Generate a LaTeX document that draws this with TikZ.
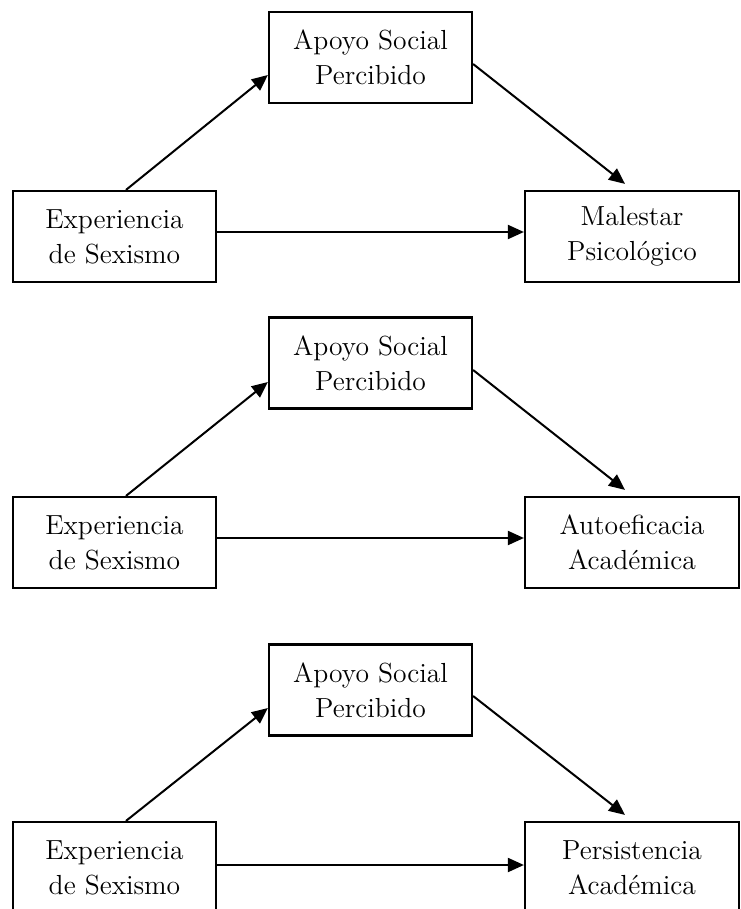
\documentclass[tikz,border=0pt]{standalone}
\usetikzlibrary{arrows.meta,calc}
\tikzset{
  var/.style={draw, line width=1.1pt, minimum width=101.5pt, minimum height=45.5pt,
    inner sep=0pt, align=center, font=\fontsize{13.8}{17.5}\selectfont},
  outvar/.style={var, minimum width=107pt},
  path/.style={line width=1pt, -{Triangle[length=8pt,width=7pt]}}
}
\begin{document}
\begin{tikzpicture}[x=0.5pt, y=-0.5pt]
\useasboundingbox (0,0) rectangle (740,909);
% first model
\node[var] (apoyoA) at (370.5, 57.5) {Apoyo Social\\Percibido};
\node[var] (sexA) at (114.5, 236.5) {Experiencia\\de Sexismo};
\node[outvar] (malestar) at (632, 236.5) {Malestar\\Psicol\'ogico};
\draw[path] ($(sexA.north)+(11.5,0)$) -- ($(apoyoA.west)+(0,17.5)$);
\draw[path] ($(apoyoA.east)+(0,6.5)$) -- ($(malestar.north)+(-7,-6)$);
\draw[path] ($(sexA.east)+(0,-4.5)$) -- ($(malestar.west)+(0,-4.5)$);
% second model
\node[var] (apoyoB) at (370.5, 363) {Apoyo Social\\Percibido};
\node[var] (sexB) at (114.5, 542.5) {Experiencia\\de Sexismo};
\node[outvar] (autoef) at (632, 542.5) {Autoeficacia\\Acad\'emica};
\draw[path] ($(sexB.north)+(11.5,0)$) -- ($(apoyoB.west)+(0,19)$);
\draw[path] ($(apoyoB.east)+(0,7)$) -- ($(autoef.north)+(-7,-6)$);
\draw[path] ($(sexB.east)+(0,-4.5)$) -- ($(autoef.west)+(0,-4.5)$);
% third model
\node[var] (apoyoC) at (370.5, 690) {Apoyo Social\\Percibido};
\node[var] (sexC) at (114.5, 867.5) {Experiencia\\de Sexismo};
\node[outvar] (persist) at (632, 867.5) {Persistencia\\Acad\'emica};
\draw[path] ($(sexC.north)+(11.5,0)$) -- ($(apoyoC.west)+(0,18)$);
\draw[path] ($(apoyoC.east)+(0,6)$) -- ($(persist.north)+(-7,-6)$);
\draw[path] ($(sexC.east)+(0,-2.5)$) -- ($(persist.west)+(0,-2.5)$);
\end{tikzpicture}
\end{document}
